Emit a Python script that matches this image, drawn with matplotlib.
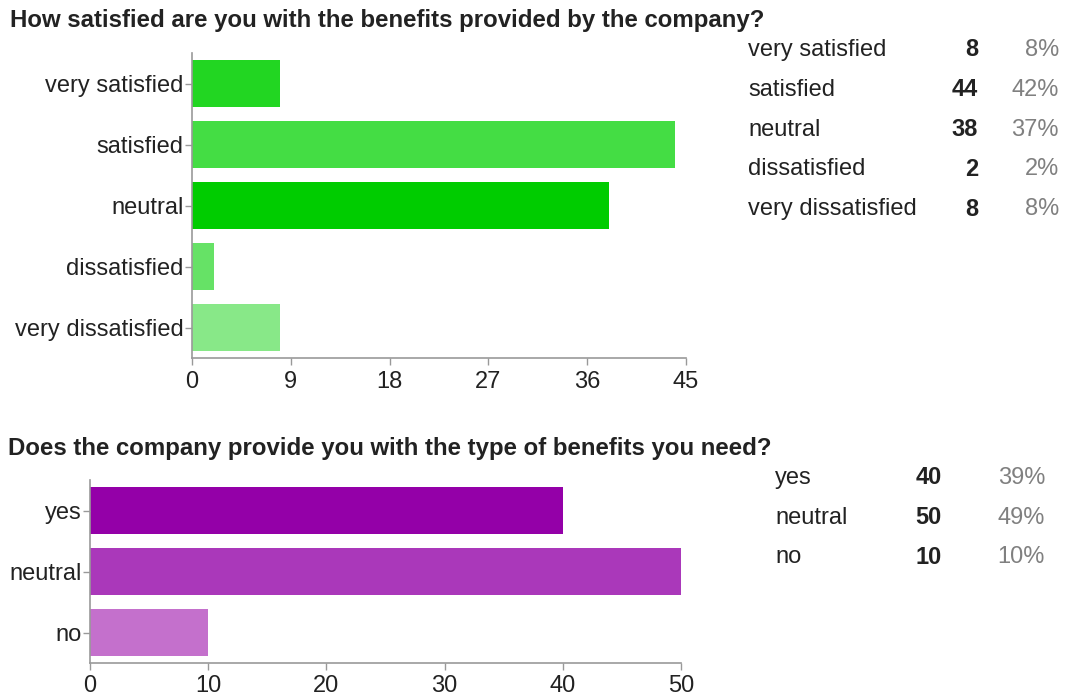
import matplotlib
matplotlib.use("Agg")
from matplotlib import pyplot as plt

plt.rcParams["font.family"] = ["Liberation Sans", "DejaVu Sans"]

# Question 1: satisfaction with benefits
q1_title = "How satisfied are you with the benefits provided by the company?"
q1_labels = ["very satisfied", "satisfied", "neutral", "dissatisfied", "very dissatisfied"]
q1_counts = [8, 44, 38, 2, 8]
q1_percents = [8, 42, 37, 2, 8]
q1_colors = ["#22d622", "#44dd44", "#00cc00", "#66e266", "#88e888"]
q1_ticks = [0, 9, 18, 27, 36, 45]

# Question 2: type of benefits
q2_title = "Does the company provide you with the type of benefits you need?"
q2_labels = ["yes", "neutral", "no"]
q2_counts = [40, 50, 10]
q2_percents = [39, 49, 10]
q2_colors = ["#9400a8", "#aa38ba", "#c470cc"]
q2_ticks = [0, 10, 20, 30, 40, 50]

W, H = 1067, 697
TEXT = "#222222"
AXIS = "#999999"
FS = 17
TITLE_FS = 17.3


def px(x, y):
    # pixel position (from top-left) -> figure fraction
    return x / W, 1 - y / H


def bar_panel(fig, rect, labels, counts, colors, ticks, xpad):
    left, top, right, bottom = rect
    ax = fig.add_axes([left / W, 1 - bottom / H, (right - left) / W, (bottom - top) / H])
    pos = list(range(len(labels)))
    ax.barh(pos, counts, height=0.77, color=colors)
    ax.set_ylim(len(labels) - 0.5, -0.5)
    ax.set_xlim(ticks[0], ticks[-1])
    ax.set_xticks(ticks)
    ax.set_yticks(pos)
    ax.set_yticklabels(labels)
    for side in ("top", "right"):
        ax.spines[side].set_visible(False)
    for side in ("left", "bottom"):
        ax.spines[side].set_color(AXIS)
        ax.spines[side].set_linewidth(1.2)
    ax.tick_params(axis="both", colors=AXIS, labelcolor=TEXT, labelsize=FS,
                   length=5, width=1)
    ax.tick_params(axis="y", pad=1)
    ax.tick_params(axis="x", pad=xpad)
    return ax


def count_table(fig, x_label, x_count, x_pct, y0, dy, labels, counts, percents):
    for i, (lab, n, p) in enumerate(zip(labels, counts, percents)):
        y = y0 + i * dy
        fig.text(*px(x_label, y), lab, fontsize=FS, color=TEXT, va="center", ha="left")
        fig.text(*px(x_count, y), str(n), fontsize=FS, color=TEXT, va="center",
                 ha="right", fontweight="bold")
        fig.text(*px(x_pct, y), f"{p}%", fontsize=FS, color="#808080", va="center",
                 ha="right")


fig = plt.figure(figsize=(W / 100, H / 100), dpi=100)

fig.text(*px(10, 21), q1_title, fontsize=TITLE_FS, fontweight="bold", color=TEXT, va="center")
bar_panel(fig, (192, 53, 686, 358), q1_labels, q1_counts, q1_colors, q1_ticks, 4)
count_table(fig, 748, 978, 1059, 50, 39.8, q1_labels, q1_counts, q1_percents)

fig.text(*px(8, 448), q2_title, fontsize=TITLE_FS, fontweight="bold", color=TEXT, va="center")
bar_panel(fig, (90, 480, 681, 663), q2_labels, q2_counts, q2_colors, q2_ticks, 4)
count_table(fig, 775, 942, 1045, 478, 39.5, q2_labels, q2_counts, q2_percents)

fig.savefig("out.png", dpi=100, facecolor="white")
